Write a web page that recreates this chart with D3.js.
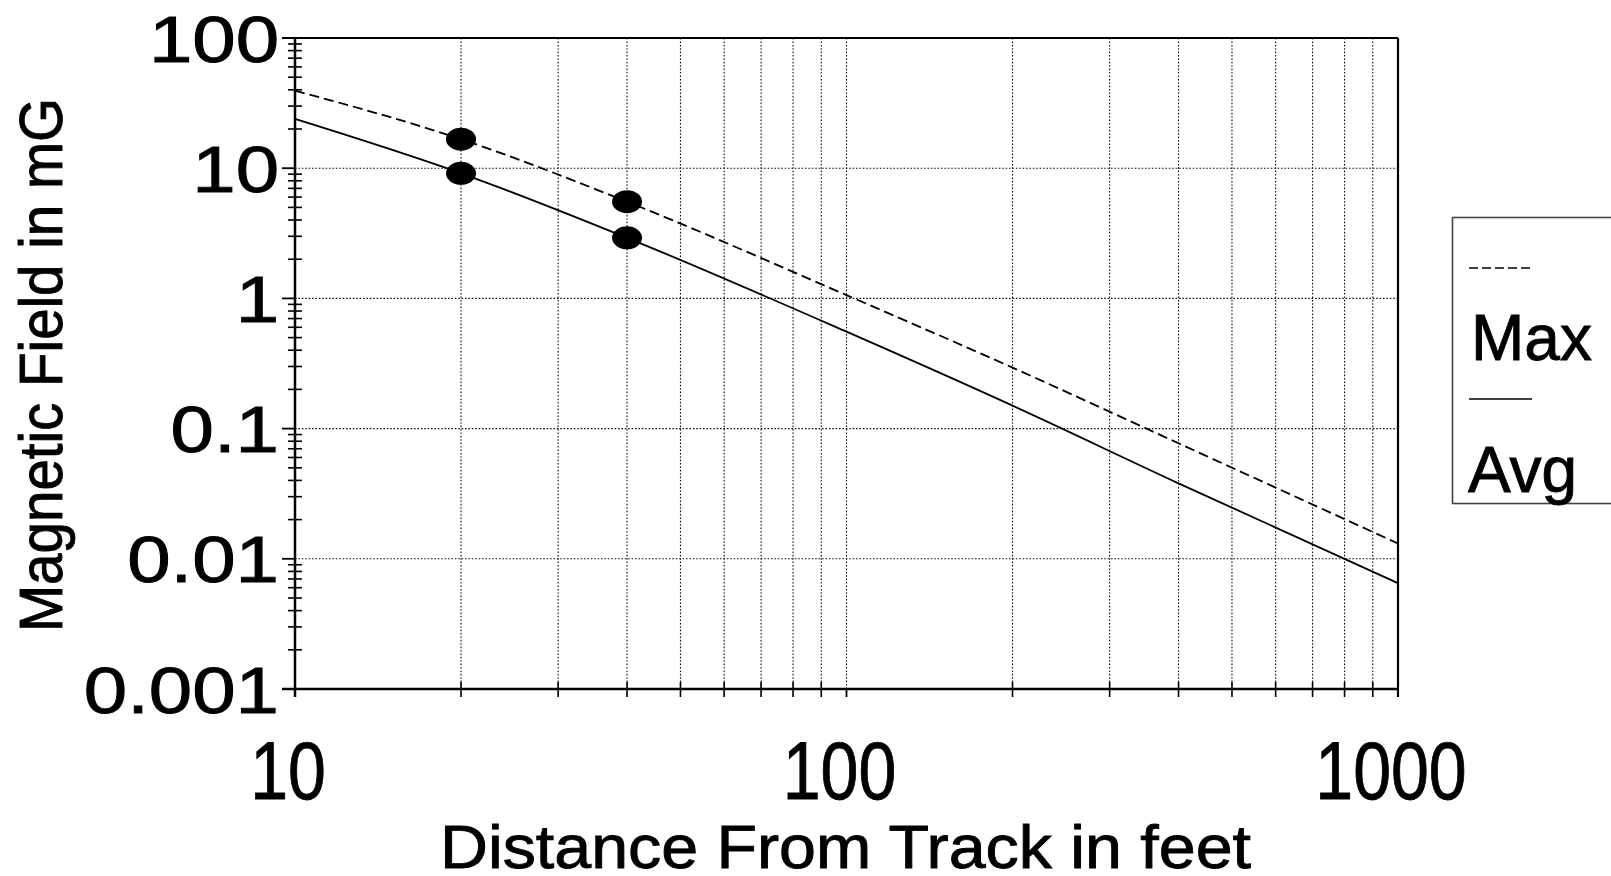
<!DOCTYPE html>
<html>
<head>
<meta charset="utf-8">
<script src="https://cdn.jsdelivr.net/npm/d3@7"></script>
<style>
  html, body { margin: 0; padding: 0; background: #fff; }
  svg { display: block; }
  text { font-family: "Liberation Sans", Arial, sans-serif; fill: #000; stroke: #000; stroke-width: 0.9px; }
</style>
</head>
<body>
<svg id="chart" width="1611" height="876"></svg>
<script>
// ---- data ----
const distances = [10, 20, 40, 100, 200, 400, 1000];
const maxField  = [39.4, 16.7, 5.53, 1.06, 0.294, 0.0771, 0.0131];
const avgField  = [23.9, 9.14, 2.92, 0.555, 0.150, 0.0380, 0.00649];
const markerDistances = [20, 40];
const markerMax = [16.7, 5.53];
const markerAvg = [9.14, 2.92];
const xTickValues = [10, 100, 1000];
const xTickLabels = ["10", "100", "1000"];
const yTickValues = [0.001, 0.01, 0.1, 1, 10, 100];
const yTickLabels = ["0.001", "0.01", "0.1", "1", "10", "100"];
const seriesNames = ["Max", "Avg"];
const xTitle = "Distance From Track in feet";
const yTitle = "Magnetic Field in mG";

// ---- layout ----
const L = 295, R = 1398, T = 38, B = 689;
const svg = d3.select("#chart");
const x = d3.scaleLog().domain([10, 1000]).range([L, R]);
const y = d3.scaleLog().domain([0.001, 100]).range([B, T]);

// minor tick values from the scales
const xMinor = x.ticks().filter(v => !xTickValues.includes(v));
const yMinor = y.ticks().filter(v => !yTickValues.some(t => Math.abs(t - v) / t < 1e-9));

// gridlines
const grid = svg.append("g").attr("stroke", "#111").attr("stroke-width", 1.1).attr("stroke-dasharray", "1.6,1.8");
grid.selectAll(".vg").data(x.ticks().filter(v => v > 10 && v < 1000)).join("line")
  .attr("x1", d => x(d)).attr("x2", d => x(d)).attr("y1", T).attr("y2", B);
grid.selectAll(".hg").data(yTickValues.filter(v => v > 0.001 && v < 100)).join("line")
  .attr("x1", L).attr("x2", R).attr("y1", d => y(d)).attr("y2", d => y(d));

// frame
const frame = svg.append("g").attr("stroke", "#000");
frame.append("line").attr("x1", L - 13).attr("x2", R).attr("y1", T).attr("y2", T).attr("stroke-width", 2.2);
frame.append("line").attr("x1", R).attr("x2", R).attr("y1", T).attr("y2", B + 8).attr("stroke-width", 2.2);
frame.append("line").attr("x1", L).attr("x2", L).attr("y1", T).attr("y2", B + 8).attr("stroke-width", 2.5);
frame.append("line").attr("x1", L - 13).attr("x2", R).attr("y1", B).attr("y2", B).attr("stroke-width", 2.5);

// y ticks
frame.selectAll(".ymin").data(yMinor).join("line")
  .attr("x1", L - 7).attr("x2", L + 7).attr("y1", d => y(d)).attr("y2", d => y(d)).attr("stroke-width", 1.6);
frame.selectAll(".ymaj").data(yTickValues).join("line")
  .attr("x1", L - 13).attr("x2", L).attr("y1", d => y(d)).attr("y2", d => y(d)).attr("stroke-width", 1.8);
// x ticks
frame.selectAll(".xmin").data(xMinor).join("line")
  .attr("x1", d => x(d)).attr("x2", d => x(d)).attr("y1", B - 7).attr("y2", B + 8).attr("stroke-width", 1.6);
frame.selectAll(".xmaj").data(xTickValues).join("line")
  .attr("x1", d => x(d)).attr("x2", d => x(d)).attr("y1", B).attr("y2", B + 8).attr("stroke-width", 1.8);

// y tick labels (wide)
svg.append("g").selectAll("text").data(yTickValues).join("text")
  .attr("transform", d => `translate(279,${y(d) + 23.5}) scale(1.2,1)`)
  .attr("text-anchor", "end").attr("font-size", 65)
  .text((d, i) => yTickLabels[i]);

// x tick labels (narrow)
svg.append("g").selectAll("text").data(xTickValues).join("text")
  .attr("transform", d => `translate(${x(d) - 7},799) scale(0.83,1)`)
  .attr("text-anchor", "middle").attr("font-size", 82)
  .text((d, i) => xTickLabels[i]);

// axis titles
svg.append("text").attr("x", 845.5).attr("y", 868).attr("text-anchor", "middle")
  .attr("font-size", 62).attr("textLength", 811).attr("lengthAdjust", "spacingAndGlyphs").text(xTitle);
svg.append("text").attr("transform", "translate(62,365) rotate(-90)").attr("text-anchor", "middle")
  .attr("font-size", 62).attr("textLength", 534).attr("lengthAdjust", "spacingAndGlyphs").text(yTitle);

// lines
const line = d3.line().x(d => x(d[0])).y(d => y(d[1])).curve(d3.curveMonotoneX);
const plot = svg.append("g");
plot.append("path").datum(distances.map((d, i) => [d, maxField[i]]))
  .attr("d", line).attr("fill", "none").attr("stroke", "#000").attr("stroke-width", 1.8).attr("stroke-dasharray", "10,5");
plot.append("path").datum(distances.map((d, i) => [d, avgField[i]]))
  .attr("d", line).attr("fill", "none").attr("stroke", "#000").attr("stroke-width", 1.8);

// markers
const markers = markerDistances.flatMap((d, i) => [[d, markerMax[i]], [d, markerAvg[i]]]);
plot.selectAll("ellipse").data(markers).join("ellipse")
  .attr("cx", d => x(d[0])).attr("cy", d => y(d[1])).attr("rx", 15).attr("ry", 11.5).attr("fill", "#000");

// legend
const lg = svg.append("g");
lg.append("rect").attr("x", 1452.5).attr("y", 217.5).attr("width", 200).attr("height", 286)
  .attr("fill", "#fff").attr("stroke", "#444").attr("stroke-width", 1.6);
lg.append("line").attr("x1", 1469).attr("x2", 1532).attr("y1", 268).attr("y2", 268)
  .attr("stroke", "#000").attr("stroke-width", 1.6).attr("stroke-dasharray", "9,4");
lg.append("text").attr("x", 1471).attr("y", 360).attr("font-size", 64).text(seriesNames[0]);
lg.append("line").attr("x1", 1469).attr("x2", 1532).attr("y1", 399).attr("y2", 399)
  .attr("stroke", "#000").attr("stroke-width", 1.6);
lg.append("text").attr("x", 1468).attr("y", 492).attr("font-size", 64).text(seriesNames[1]);
</script>
</body>
</html>
